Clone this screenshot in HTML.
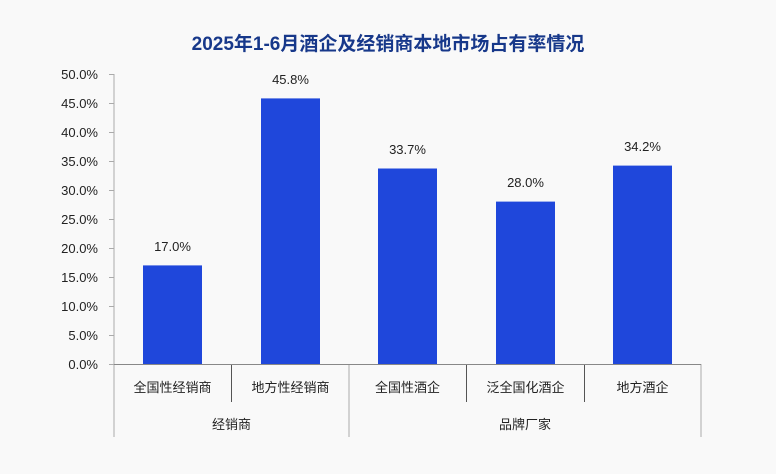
<!DOCTYPE html>
<html><head><meta charset="utf-8"><style>
html,body{margin:0;padding:0;background:#f9f9f9;width:776px;height:474px;overflow:hidden;}
svg{display:block;}
</style></head><body>
<svg width="776" height="474" xmlns="http://www.w3.org/2000/svg" font-family="'Liberation Sans','Noto Sans CJK SC',sans-serif">
<rect width="776" height="474" fill="#f9f9f9"/>
<text x="388" y="50" text-anchor="middle" font-size="19" font-weight="bold" fill="#17388a">2025年1-6月酒企及经销商本地市场占有率情况</text>
<g font-size="13" fill="#222" text-anchor="end">
<text x="98" y="79">50.0%</text><text x="98" y="108">45.0%</text><text x="98" y="137">40.0%</text>
<text x="98" y="166">35.0%</text><text x="98" y="195">30.0%</text><text x="98" y="224">25.0%</text>
<text x="98" y="253">20.0%</text><text x="98" y="282">15.0%</text><text x="98" y="311">10.0%</text>
<text x="98" y="340">5.0%</text><text x="98" y="369">0.0%</text>
</g>
<g stroke="#aaa" stroke-width="1">
<line x1="114" y1="74" x2="114" y2="437"/>
<line x1="109" y1="74.5" x2="114" y2="74.5"/><line x1="109" y1="103.5" x2="114" y2="103.5"/>
<line x1="109" y1="132.5" x2="114" y2="132.5"/><line x1="109" y1="161.5" x2="114" y2="161.5"/>
<line x1="109" y1="190.5" x2="114" y2="190.5"/><line x1="109" y1="219.5" x2="114" y2="219.5"/>
<line x1="109" y1="248.5" x2="114" y2="248.5"/><line x1="109" y1="277.5" x2="114" y2="277.5"/>
<line x1="109" y1="306.5" x2="114" y2="306.5"/><line x1="109" y1="335.5" x2="114" y2="335.5"/>
<line x1="109" y1="364.5" x2="114" y2="364.5"/>
<line x1="349" y1="364" x2="349" y2="437"/>
<line x1="701" y1="364" x2="701" y2="437"/>
</g>
<g stroke="#555" stroke-width="1">
<line x1="231.5" y1="364" x2="231.5" y2="402"/>
<line x1="466.5" y1="364" x2="466.5" y2="402"/>
<line x1="584.5" y1="364" x2="584.5" y2="402"/>
</g>
<g fill="#1f47db">
<rect x="143" y="265.4" width="59" height="98.6"/>
<rect x="261" y="98.4" width="59" height="265.6"/>
<rect x="378" y="168.5" width="59" height="195.5"/>
<rect x="496" y="201.6" width="59" height="162.4"/>
<rect x="613" y="165.6" width="59" height="198.4"/>
</g>
<line x1="114" y1="364.5" x2="701" y2="364.5" stroke="#888" stroke-width="1"/>
<g font-size="13" fill="#222" text-anchor="middle">
<text x="172.5" y="251">17.0%</text><text x="290.5" y="84">45.8%</text><text x="407.5" y="154">33.7%</text>
<text x="525.5" y="187">28.0%</text><text x="642.5" y="151">34.2%</text>
<text x="172.5" y="392">全国性经销商</text><text x="290.5" y="392">地方性经销商</text><text x="407.5" y="392">全国性酒企</text>
<text x="525.5" y="392">泛全国化酒企</text><text x="642.5" y="392">地方酒企</text>
<text x="231.5" y="429">经销商</text><text x="525" y="429">品牌厂家</text>
</g>
</svg>
</body></html>
